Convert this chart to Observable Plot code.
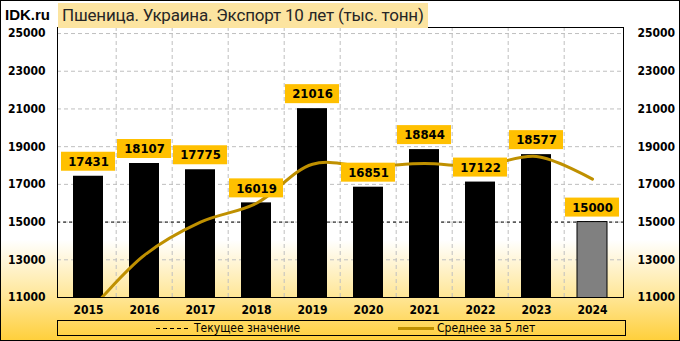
<!DOCTYPE html>
<html><head><meta charset="utf-8">
<script src="https://cdn.jsdelivr.net/npm/d3@7"></script>
<script src="https://cdn.jsdelivr.net/npm/@observablehq/plot@0.6"></script>
<style>
body{margin:0;}
#wrap{position:relative;width:680px;height:341px;overflow:hidden;
 background:linear-gradient(to bottom,#ffffff 0px,#ffffff 240px,#FFE79A 295px,#FFCF3A 341px);}
#wrap svg{position:absolute;left:0;top:0;}
.ov{position:absolute;white-space:nowrap;}
#border{left:0;top:0;width:678px;height:339px;border:1px solid #000;}
#logo{left:5px;top:6px;font:bold 15px "Liberation Sans",Arial,sans-serif;color:#000;}
#title{left:58px;top:3px;width:370px;height:25px;background:#FCE4A0;font:17px Roboto,sans-serif;letter-spacing:-0.2px;color:#262626;line-height:25px;padding-left:4px;box-sizing:border-box;}
#legend{left:57px;top:320px;width:569px;height:16px;border:1px solid #000;box-sizing:border-box;font:12px "DejaVu Sans Condensed","DejaVu Sans",sans-serif;color:#000;}
.li{position:absolute;top:0;line-height:14px;}
.dash{display:inline-block;width:32px;height:1px;vertical-align:middle;background:repeating-linear-gradient(to right,#000 0 4px,transparent 4px 7px);margin-right:6px;}
.gold{display:inline-block;width:36px;height:3px;vertical-align:middle;background:#BF9000;margin-right:3px;}
</style></head><body>
<div id="wrap"></div>
<script>
const years = ["2015","2016","2017","2018","2019","2020","2021","2022","2023","2024"];
const values = [17431,18107,17775,16019,21016,16851,18844,17122,18577,15000];
const avg5 = [10200,13250,15000,16000,18070,17954,18101,17970,18482,17279];
const yTicks = [11000,13000,15000,17000,19000,21000,23000,25000];
const currentValue = 15000;
const titleText = "Пшеница. Украина. Экспорт 10 лет (тыс. тонн)";
const legendCurrent = "Текущее значение";
const legendAvg = "Среднее за 5 лет";

const data = years.map((y,i)=>({year:y, value:values[i], avg:avg5[i]}));
const past = data.slice(0,-1), last = data.slice(-1);

const W=680,H=341,mL=57,mR=57,mT=27,mB=44;
const step=(W-mL-mR)/years.length;

const chart = Plot.plot({
  width:W, height:H, marginLeft:mL, marginRight:mR, marginTop:mT, marginBottom:mB,
  x:{domain:years, paddingInner:0.47, paddingOuter:0.235, label:null},
  y:{domain:[11000,25320], label:null},
  style:{background:"transparent", fontFamily:'"DejaVu Sans Condensed","DejaVu Sans",sans-serif', fontSize:"12px", fontWeight:"bold", color:"black"},
  marks:[
    Plot.gridY(yTicks,{stroke:"#bfbfbf", strokeOpacity:1, strokeDasharray:"4,3"}),
    Plot.ruleX(years.slice(1),{stroke:"#bfbfbf", strokeDasharray:"4,3", dx:-step/2}),
    Plot.ruleY([currentValue],{stroke:"black", strokeDasharray:"3,3"}),
    Plot.barY(past,{x:"year", y:"value", fill:"black", clip:true}),
    Plot.barY(last,{x:"year", y:"value", fill:"#808080", stroke:"black", clip:true}),
    Plot.line(data,{x:"year", y:"avg", stroke:"#BF9000", strokeWidth:3, curve:"catmull-rom", clip:true}),
    Plot.barY(data,{x:"year", y1:"value", y2:"value", fill:"#FFC000", insetLeft:-12, insetRight:-12, insetTop:-24, insetBottom:5}),
    Plot.text(data,{x:"year", y:"value", text:d=>String(d.value), dy:-14.5, fontSize:13, fontWeight:"bold"}),
    Plot.axisY(yTicks,{anchor:"left", tickSize:0, tickPadding:12, tickFormat:d=>String(d), label:null}),
    Plot.axisY(yTicks,{anchor:"right", tickSize:0, tickPadding:14, tickFormat:d=>String(d), label:null}),
    Plot.axisX({tickSize:0, tickPadding:8, label:null}),
    Plot.frame({stroke:"black"})
  ]
});
const wrap=document.getElementById("wrap");
wrap.appendChild(chart);
wrap.insertAdjacentHTML("beforeend",
 `<div class="ov" id="logo">IDK.ru</div>
  <div class="ov" id="title">${titleText}</div>
  <div class="ov" id="legend">
    <span class="li" style="left:98px"><span class="dash"></span>${legendCurrent}</span>
    <span class="li" style="left:340px"><span class="gold"></span>${legendAvg}</span>
  </div>
  <div class="ov" id="border"></div>`);
</script>
</body></html>
